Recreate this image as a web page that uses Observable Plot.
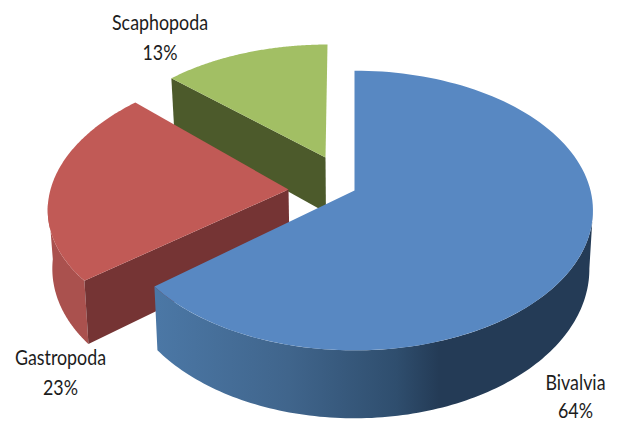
<!DOCTYPE html>
<html>
<head>
<meta charset="utf-8">
<script src="https://cdn.jsdelivr.net/npm/d3@7"></script>
<script src="https://cdn.jsdelivr.net/npm/@observablehq/plot@0.6"></script>
<style>html,body{margin:0;padding:0;background:#fff}svg{display:block}</style>
</head>
<body>
<script>
const categories = ["Bivalvia", "Gastropoda", "Scaphopoda"];
const shares = [64, 23, 13];

// Projection of each exploded slice from a unit disc on to the page.
const frames = [
  {ax: 354, ay: 190, a: 236, b: 137, k: 0.143, s: 0},
  {ax: 288, ay: 189, a: 238, b: 135, k: 0.09, s: -15},
  {ax: 325, ay: 157, a: 225, b: 122, k: 0.08, s: -2}
];
const tops = ["#5888c2", "#c15a56", "#a2bf64"];
const labelAt = [[575, 383, 411], [60, 358, 388], [159.5, 23, 53]];

const arcs = d3.pie().sort(null)(shares);
const project = (f, th, r = 1) => {
  const u = r * Math.sin(th), v = -r * Math.cos(th), d = 1 - f.k * v;
  return [f.ax + f.a * u / d + f.s * v, f.ay + f.b * v / d];
};
const drop = ([x, y]) => [354 + (x - 354) * 0.985, y + 55 + (y - 157) * 0.067];
const sweep = (f, a0, a1) => d3.range(0, 121).map(i => project(f, a0 + (a1 - a0) * i / 120));
const poly = (pts, fill) => Plot.line(pts, {x: d => d[0], y: d => d[1], fill, stroke: "none", curve: "linear"});

const topFace = i => {
  const f = frames[i], A = arcs[i];
  return poly([[f.ax, f.ay], ...sweep(f, A.startAngle, A.endAngle)], tops[i]);
};
const outerWall = (i, a0, a1, fill) => {
  const e = sweep(frames[i], a0, a1);
  return poly([...e, ...e.map(drop).reverse()], fill);
};
const frontWall = (i, th, fill) => {
  const f = frames[i], c = [f.ax, f.ay], p = project(f, th);
  return poly([c, p, drop(p), drop(c)], fill);
};

const rad = Math.PI / 180;
const labels = categories.flatMap((c, i) => [
  {t: c, x: labelAt[i][0], y: labelAt[i][1]},
  {t: shares[i] + "%", x: labelAt[i][0], y: labelAt[i][2]}
]);

const plot = Plot.plot({
  width: 619, height: 421, margin: 0,
  x: {domain: [0, 619], range: [0, 619], axis: null},
  y: {domain: [0, 421], range: [0, 421], axis: null},
  style: {background: "#fff"},
  marks: [
    frontWall(2, arcs[2].startAngle, "#4c5a2b"),
    topFace(2),
    outerWall(1, 265 * rad, arcs[1].startAngle, "#aa514e"),
    frontWall(1, arcs[1].startAngle, "#753434"),
    topFace(1),
    outerWall(0, 98 * rad, arcs[0].endAngle, "url(#bivalviaSide)"),
    topFace(0),
    Plot.text(labels, {
      x: "x", y: "y", text: "t", fill: "#1c1c1c", fontSize: 21,
      fontFamily: "Lato, sans-serif", textAnchor: "middle"
    })
  ]
});
plot.insertAdjacentHTML("afterbegin", `<defs><linearGradient id="bivalviaSide" gradientUnits="userSpaceOnUse" x1="158" x2="590" y1="0" y2="0">
<stop offset="0" stop-color="#4b77a5"/><stop offset="0.3" stop-color="#40658c"/><stop offset="0.55" stop-color="#2f4e6e"/><stop offset="0.65" stop-color="#243b56"/><stop offset="1" stop-color="#243b56"/></linearGradient></defs>`);
// The reference's labels are condensed: narrow each text about its own anchor.
plot.querySelectorAll("text").forEach(t => t.setAttribute("transform", (t.getAttribute("transform") || "") + " scale(.85,1)"));
document.body.appendChild(plot);
</script>
</body>
</html>
